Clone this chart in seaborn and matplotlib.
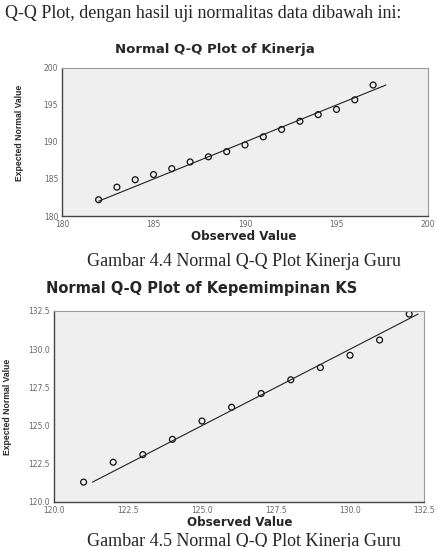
import matplotlib
matplotlib.use("Agg")
import matplotlib.pyplot as plt
import seaborn as sns
import pandas as pd

# Normal Q-Q Plot of Kinerja
kin_observed = [182, 183, 184, 185, 186, 187, 188, 189, 190, 191, 192, 193, 194, 195, 196, 197]
kin_expected = [182.2, 183.9, 184.9, 185.6, 186.4, 187.3, 188.0, 188.7, 189.6, 190.7,
                191.7, 192.8, 193.7, 194.4, 195.7, 197.7]
kin_line = [182.0, 197.7]
kin_ticks = [180, 185, 190, 195, 200]

# Normal Q-Q Plot of Kepemimpinan KS
kep_observed = [121, 122, 123, 124, 125, 126, 127, 128, 129, 130, 131, 132]
kep_expected = [121.3, 122.6, 123.1, 124.1, 125.3, 126.2, 127.1, 128.0, 128.8, 129.6, 130.6, 132.3]
kep_line = [121.3, 132.3]
kep_ticks = [120.0, 122.5, 125.0, 127.5, 130.0, 132.5]

sns.set_style("white")
serif = ["Liberation Serif", "DejaVu Serif"]
wide_bold = ["DejaVu Sans"]
narrow = ["Liberation Sans Narrow", "Liberation Sans", "DejaVu Sans"]

W, H = 438, 547
fig = plt.figure(figsize=(W / 100, H / 100), dpi=100)
fig.patch.set_facecolor("white")


def px_axes(x0, y0, x1, y1):
    return fig.add_axes([x0 / W, 1 - y1 / H, (x1 - x0) / W, (y1 - y0) / H])


def qq_panel(ax, obs, exp, line, ticks, fmt):
    df = pd.DataFrame({"obs": obs, "exp": exp})
    ln = pd.DataFrame({"x": line, "y": line})
    sns.lineplot(data=ln, x="x", y="y", color="#222222", linewidth=0.8, ax=ax)
    sns.scatterplot(data=df, x="obs", y="exp", marker="o", s=18,
                    facecolors="none", edgecolor="#111111", linewidth=0.9, ax=ax)
    ax.set_facecolor("#efefef")
    ax.set_xlim(ticks[0], ticks[-1])
    ax.set_ylim(ticks[0], ticks[-1])
    ax.set_xticks(ticks)
    ax.set_yticks(ticks)
    ax.set_xticklabels([fmt.format(t) for t in ticks])
    ax.set_yticklabels([fmt.format(t) for t in ticks])
    ax.tick_params(axis="both", direction="out", length=2.5, width=0.7,
                   labelsize=5.5, labelcolor="#666666", color="#333333", pad=0.3)
    for side in ["left", "bottom"]:
        ax.spines[side].set_color("#444444")
        ax.spines[side].set_linewidth(1.0)
    for side in ["top", "right"]:
        ax.spines[side].set_color("#999999")
        ax.spines[side].set_linewidth(0.8)
    ax.set_xlabel("")
    ax.set_ylabel("")


ax1 = px_axes(62, 68, 428, 216)
qq_panel(ax1, kin_observed, kin_expected, kin_line, kin_ticks, "{:.0f}")

ax2 = px_axes(54, 311, 424, 502)
qq_panel(ax2, kep_observed, kep_expected, kep_line, kep_ticks, "{:.1f}")


def ftext(x, y, s, **kw):
    fig.text(x / W, 1 - y / H, s, **kw)


ftext(5, 13, "Q-Q Plot, dengan hasil uji normalitas data dibawah ini:",
      family=serif, fontsize=13, ha="left", va="center")
ftext(215, 50, "Normal Q-Q Plot of Kinerja", family=wide_bold, fontweight="bold",
      fontsize=9.5, ha="center", va="center")
ftext(244, 236, "Observed Value", family=wide_bold, fontweight="bold",
      fontsize=8.6, ha="center", va="center")
ftext(20, 133, "Expected Normal Value", family=narrow, fontweight="bold",
      fontsize=6.2, rotation=90, ha="center", va="center")
ftext(244, 261, "Gambar 4.4 Normal Q-Q Plot Kinerja Guru",
      family=serif, fontsize=13, ha="center", va="center")

ftext(202, 288, "Normal Q-Q Plot of Kepemimpinan KS", family=wide_bold,
      fontweight="bold", fontsize=10.5, ha="center", va="center")
ftext(240, 523, "Observed Value", family=wide_bold, fontweight="bold",
      fontsize=8.6, ha="center", va="center")
ftext(8, 407, "Expected Normal Value", family=narrow, fontweight="bold",
      fontsize=6.2, rotation=90, ha="center", va="center")
ftext(244, 542, "Gambar 4.5 Normal Q-Q Plot Kinerja Guru",
      family=serif, fontsize=13, ha="center", va="center")

fig.savefig("out.png", dpi=100)
